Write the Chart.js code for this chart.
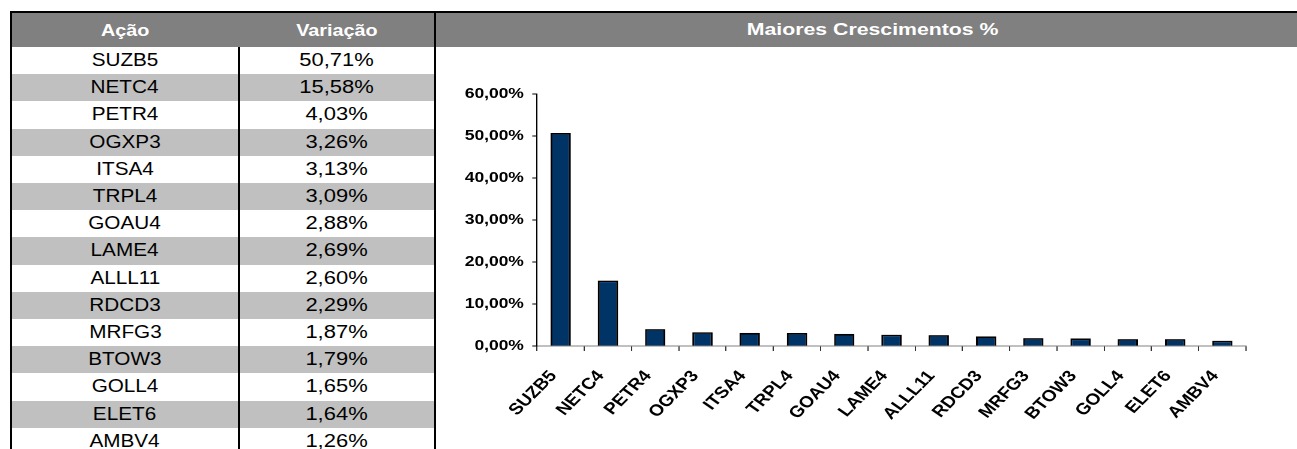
<!DOCTYPE html>
<html>
<head>
<meta charset="utf-8">
<script src="https://cdn.jsdelivr.net/npm/chart.js@4.4.0/dist/chart.umd.min.js"></script>
<style>
  html, body { margin: 0; padding: 0; background: #fff; }
  body { width: 1297px; height: 449px; position: relative; overflow: hidden; font-family: Arial, "Liberation Sans", sans-serif; }
  .abs { position: absolute; }
  .line { position: absolute; background: #000; }
  .cell { position: absolute; text-align: center; white-space: nowrap; }
  .cell span { display: inline-block; transform-origin: 50% 50%; }
  .hd { color: #fff; font-weight: bold; font-size: 16.5px; height: 34px; line-height: 34px; top: 13px; }
  .hd span { transform: scaleX(1.2); }
  .c1 span { transform: scaleX(1.15); }
  .c2 span { transform: scaleX(1.22); }
  #chartBox { position: absolute; left: 436px; top: 47px; width: 717px; height: 402px; transform: scaleX(1.2); transform-origin: 0 0; }
  #chart { width: 717px; height: 402px; }
</style>
</head>
<body>
<div class="abs" style="left:10px;top:13px;width:1287px;height:34px;background:#808080"></div>
<div id="rows"></div>
<div class="line" style="left:10px;top:11px;width:1287px;height:2px"></div>
<div class="line" style="left:10px;top:11px;width:2px;height:438px"></div>
<div class="line" style="left:238px;top:47px;width:2px;height:402px"></div>
<div class="line" style="left:434px;top:11px;width:2px;height:438px"></div>
<div class="cell hd" style="left:12px;width:226px"><span>Ação</span></div>
<div class="cell hd" style="left:240px;width:194px"><span>Variação</span></div>
<div class="cell hd" style="left:442px;width:861px;font-size:17px"><span style="transform:scaleX(1.25)">Maiores Crescimentos %</span></div>
<div id="chartBox"><canvas id="chart" width="717" height="402"></canvas></div>
<script>
const acoes = ['SUZB5', 'NETC4', 'PETR4', 'OGXP3', 'ITSA4', 'TRPL4', 'GOAU4', 'LAME4', 'ALLL11', 'RDCD3', 'MRFG3', 'BTOW3', 'GOLL4', 'ELET6', 'AMBV4'];
const variacao = [50.71, 15.58, 4.03, 3.26, 3.13, 3.09, 2.88, 2.69, 2.60, 2.29, 1.87, 1.79, 1.65, 1.64, 1.26];
const yTicks = [0, 10, 20, 30, 40, 50, 60];

const pct = (v) => v.toFixed(2).replace('.', ',') + '%';

// table rows
const ROW_TOP = 47, ROW_H = 27.2;
const rows = document.getElementById('rows');
acoes.forEach((a, i) => {
  const top = ROW_TOP + i * ROW_H;
  const bg = i % 2 === 1 ? '#c0c0c0' : '#fff';
  const pos = `top:${top}px;height:${ROW_H}px;line-height:${ROW_H}px;font-size:18px`;
  rows.insertAdjacentHTML('beforeend',
    `<div class="abs" style="left:12px;top:${top}px;width:422px;height:${ROW_H}px;background:${bg}"></div>` +
    `<div class="cell c1" style="left:12px;width:226px;${pos}"><span>${a}</span></div>` +
    `<div class="cell c2" style="left:240px;width:194px;${pos}"><span>${pct(variacao[i])}</span></div>`);
});

const yFont = { family: 'Arial, "Liberation Sans", sans-serif', weight: 'bold', size: 14.5 };
const xFont = { family: 'Arial, "Liberation Sans", sans-serif', weight: 'bold', size: 16 };

const chart = new Chart(document.getElementById('chart').getContext('2d'), {
  type: 'bar',
  data: {
    labels: acoes,
    datasets: [{
      data: variacao,
      backgroundColor: '#003366',
      borderColor: '#000',
      borderWidth: 1.6,
      barPercentage: 0.43,
      categoryPercentage: 1,
    }]
  },
  options: {
    responsive: false,
    animation: false,
    devicePixelRatio: 2,
    layout: { padding: { top: 40, left: 10, right: 42, bottom: 0 } },
    plugins: { legend: { display: false }, tooltip: { enabled: false } },
    scales: {
      x: {
        grid: { display: true, drawOnChartArea: false, drawTicks: true, tickLength: 5, color: '#333', offset: true },
        border: { color: '#808080', width: 1 },
        ticks: { color: '#000', font: xFont, minRotation: 50, maxRotation: 50, autoSkip: false, padding: 16, labelOffset: -6 },
        afterFit(s) { s.height = 103; }
      },
      y: {
        min: 0,
        max: 60,
        afterBuildTicks(s) { s.ticks = yTicks.map(v => ({ value: v })); },
        grid: { drawOnChartArea: false, tickLength: 4, color: '#000' },
        border: { color: '#000', width: 1 },
        ticks: { color: '#000', font: yFont, padding: 7, callback: (v) => pct(v) }
      }
    }
  }
});

// nudge the padding so the plot area sits where the reference has it
const want = { left: 84.2, right: 675, top: 47, bottom: 299 };
const a = chart.chartArea;
const p = chart.options.layout.padding;
p.top += want.top - a.top;
p.left += want.left - a.left;
p.right += a.right - want.right;
p.bottom += a.bottom - want.bottom;
chart.update();
</script>
</body>
</html>
